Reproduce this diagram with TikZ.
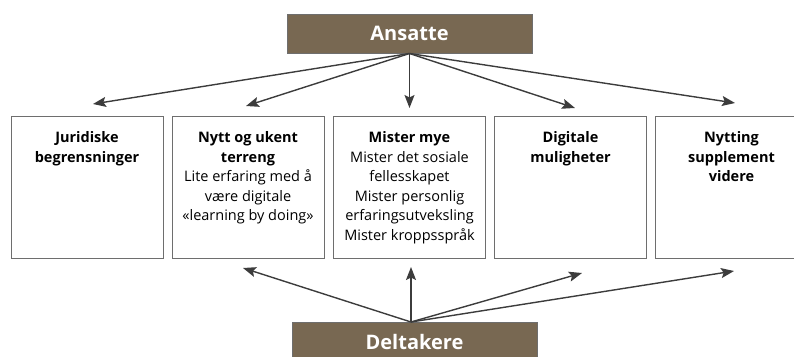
\documentclass[tikz,border=0pt]{standalone}
\usepackage{fontspec}
\setmainfont{Open Sans}
\usetikzlibrary{arrows.meta}
\definecolor{brownbox}{HTML}{786852}
\definecolor{boxline}{HTML}{6E6E6E}
\definecolor{arrowc}{HTML}{3C3C3C}
\tikzset{
  x=1pt, y=-1pt,
  headbox/.style={draw=boxline, line width=1pt, fill=brownbox, minimum width=245pt, minimum height=39pt, inner sep=0pt, text=white, font=\fontsize{20}{23}\selectfont\bfseries},
  itembox/.style={draw=boxline, line width=1pt, minimum width=152pt, minimum height=142pt, inner sep=0pt},
  itemtext/.style={anchor=north, align=center, inner sep=0pt, font=\fontsize{14.5}{19.5}\selectfont},
  conn/.style={draw=arrowc, line width=1.4pt, -{Stealth[length=13pt, width=10pt, inset=2.5pt]}}
}
\begin{document}
\begin{tikzpicture}
\useasboundingbox (0,0) rectangle (794,356);
\clip (0,0) rectangle (794,356);
\node[headbox] (ans) at (409.5,33.5) {Ansatte};
\node[headbox] (del) at (414.5,341.5) {Deltakere};

\node[itembox] (b1) at (87,187) {};
\node[itembox] (b2) at (248,187) {};
\node[itembox] (b3) at (409.5,187) {};
\node[itembox] (b4) at (570.5,187) {};
\node[itembox] (b5) at (731.5,187) {};

\node[itemtext] (t1) at ([yshift=-16pt]b1.north) {\textbf{Juridiske}\\\textbf{begrensninger}};
\node[itemtext] (t2) at ([yshift=-16pt]b2.north) {\textbf{Nytt og ukent}\\\textbf{terreng}\\Lite erfaring med å\\være digitale\\«learning by doing»};
\node[itemtext] (t3) at ([yshift=-16pt]b3.north) {\textbf{Mister mye}\\Mister det sosiale\\fellesskapet\\Mister personlig\\erfaringsutveksling\\Mister kroppsspråk};
\node[itemtext] (t4) at ([yshift=-16pt]b4.north) {\textbf{Digitale}\\\textbf{muligheter}};
\node[itemtext] (t5) at ([yshift=-16pt]b5.north) {\textbf{Nytting}\\\textbf{supplement}\\\textbf{videre}};

\coordinate (a1) at (93,104);
\coordinate (a2) at (246,106);
\coordinate (a3) at (409.5,108);
\coordinate (a4) at (575,108);
\coordinate (a5) at (735,103);
\coordinate (dsrc) at (411,322);
\coordinate (d2) at (243,268);
\coordinate (d3) at (411,267);
\coordinate (d4) at (582,273);
\coordinate (d5) at (734,271);

\draw[conn] (ans.south) -- (a1);
\draw[conn] (ans.south) -- (a2);
\draw[conn] (ans.south) -- (a3);
\draw[conn] (ans.south) -- (a4);
\draw[conn] (ans.south) -- (a5);
\draw[conn] (dsrc) -- (d2);
\draw[conn] (dsrc) -- (d3);
\draw[conn] (dsrc) -- (d4);
\draw[conn] (dsrc) -- (d5);
\end{tikzpicture}
\end{document}
